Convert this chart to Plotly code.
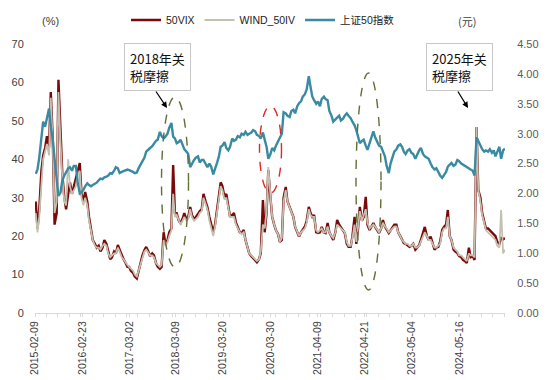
import pandas as pd
import plotly.graph_objects as go

# ---------------- data (semi-monthly readings) ----------------
vix_2015 = [29, 22, 27, 37, 41, 43, 46, 43, 57.5, 45, 23, 26, 60.7, 46, 36, 30, 27, 31, 34, 31, 33]
vix_2016 = [35, 37, 39, 31, 29, 31.5, 29, 25, 22, 19, 18, 17, 17.5, 16, 17, 19, 18, 16, 14, 14.5, 16, 15.5, 17.7, 16.5]
vix_2017 = [15, 14, 13, 12, 12, 11, 10.4, 9.5, 9, 11, 13.8, 15, 16.4, 17.2, 16, 14.8, 15.5, 15, 13, 12, 11.5, 12, 21, 18]
vix_2018 = [19, 21, 22, 38.5, 26, 26, 24, 23.4, 24.5, 26, 24.3, 25, 27.6, 25.5, 24.3, 25, 26, 26.5, 27, 31, 29, 27.6, 25, 23]
vix_2019 = [21, 23, 27, 31, 34, 33, 30, 31, 28, 25, 25.5, 26, 23.5, 22.4, 21, 20.8, 21.6, 19, 17.2, 15.5, 14.8, 14.2, 13.8, 13.2]
vix_2020 = [14, 15.6, 29.4, 21, 26, 37.2, 30, 25, 23, 21.5, 20.5, 18.5, 19, 30, 32.8, 29, 27.6, 26.5, 25, 22.4, 21, 19.9, 21, 21.6]
vix_2021 = [22.5, 24, 27.6, 26, 25, 25.5, 21, 20.8, 21, 22.4, 21, 20.8, 23.4, 21, 19.9, 19, 21, 24.2, 23, 22.4, 21.5, 20.8, 18, 17.2]
vix_2022 = [17.2, 20, 25, 18, 22, 27.6, 24, 25, 30.2, 23, 21.6, 22.5, 23.4, 22.4, 21.5, 20.8, 22, 24.2, 22.5, 21.6, 20.8, 21.5, 22.4, 23]
vix_2023 = [23, 21, 20, 19, 18.2, 18, 17.5, 17.2, 17.5, 18, 16.5, 17, 17.6, 19, 21, 22.4, 20, 19, 19.9, 18, 16.5, 17, 17.2, 18.5]
vix_2024 = [21.6, 22.4, 23, 26.8, 20, 19, 16.5, 16, 15.6, 14.8, 14.5, 13.8, 13.5, 13, 17, 14.5, 14.8, 13.8, 48.4, 32, 30, 26, 24, 22]
vix_2025 = [22, 21.5, 21, 20.5, 20, 18.5, 18, 19.5, 19.2, 19.5]

iv_2015 = [26, 21, 25, 35, 40, 42, 44, 41, 56, 44, 26, 29, 57.5, 44, 35, 29, 28, 40, 33, 31, 32]
iv_2016 = [33, 36, 37, 30, 28, 30, 28, 24, 21, 19, 17.5, 17, 17, 16.5, 17.5, 18, 17.5, 15.5, 14.5, 15, 15.5, 15.5, 17, 16]
iv_2017 = [14.5, 14, 13, 12.5, 12, 11.5, 11, 10, 9.5, 11, 13, 14.5, 16, 16.5, 15.5, 15, 15, 14.5, 13, 12.5, 12, 12.5, 19, 17.5]
iv_2018 = [18.5, 20, 21.5, 31, 25, 25.5, 24, 23, 24, 25, 24, 24.5, 27, 25, 24, 24.5, 25, 26, 26.5, 30, 28, 27, 24, 22]
iv_2019 = [20, 22.5, 26, 30, 33, 32, 29.5, 30, 27.5, 25, 25, 25, 23, 22, 21, 20.5, 21, 19, 17, 15.5, 15, 14.5, 14, 13.5]
iv_2020 = [14, 16, 23, 22, 26.5, 38, 30.5, 25, 23, 21.5, 20.5, 18.5, 19.5, 29, 32, 29, 27.5, 26.5, 25, 22.5, 21, 20, 21, 21.5]
iv_2021 = [22, 23.5, 27, 25.5, 25, 25, 21.5, 21, 21.5, 22, 21, 21, 22.5, 21, 20, 19.5, 21, 23, 22.5, 22, 21.5, 21, 18.5, 17.5]
iv_2022 = [17.5, 19.5, 23, 18.5, 22.5, 26.5, 24, 25.5, 27, 23.5, 22, 22.5, 23, 22.5, 21.5, 21, 22, 23.5, 22.5, 22, 21, 21.5, 22, 22.5]
iv_2023 = [22.5, 21, 20, 19, 18.5, 18, 18, 17.5, 17.5, 18, 17, 17, 17.5, 18.5, 20, 21, 20, 19, 19, 18, 17, 17, 17.5, 18]
iv_2024 = [21, 22, 22, 25, 20, 19, 17, 16.5, 16, 15, 15, 14.5, 14, 13.5, 15.5, 15, 15, 14.5, 48.4, 32, 29, 25.5, 23.5, 21.5]
iv_2025 = [21, 20.5, 20, 19.5, 19, 17.5, 17, 26.8, 15.5, 16.5]

sz50_2015 = [2.33, 2.40, 2.60, 2.95, 3.20, 3.12, 3.28, 3.42, 3.12, 2.90, 2.58, 2.28, 1.96, 2.02, 2.22, 2.30, 2.36, 2.42, 2.44, 2.38, 2.46]
sz50_2016 = [2.46, 2.20, 2.00, 2.02, 2.06, 2.12, 2.17, 2.14, 2.12, 2.14, 2.16, 2.18, 2.22, 2.25, 2.24, 2.27, 2.28, 2.30, 2.34, 2.33, 2.38, 2.44, 2.42, 2.34]
sz50_2017 = [2.36, 2.37, 2.38, 2.40, 2.39, 2.38, 2.36, 2.34, 2.35, 2.42, 2.48, 2.52, 2.60, 2.70, 2.74, 2.76, 2.79, 2.84, 2.88, 2.90, 3.03, 2.96, 2.92, 2.95]
sz50_2018 = [3.00, 3.10, 3.18, 2.95, 2.92, 2.84, 2.86, 2.90, 2.80, 2.74, 2.70, 2.66, 2.44, 2.50, 2.56, 2.60, 2.62, 2.52, 2.56, 2.56, 2.50, 2.44, 2.50, 2.45]
sz50_2019 = [2.32, 2.40, 2.52, 2.62, 2.78, 2.80, 2.86, 2.76, 2.72, 2.78, 2.92, 2.88, 2.90, 2.96, 2.94, 3.00, 2.98, 3.03, 2.98, 3.00, 3.02, 3.06, 3.04, 2.98]
sz50_2020 = [2.96, 2.92, 3.02, 2.90, 2.78, 2.58, 2.66, 2.76, 2.72, 2.80, 2.88, 2.92, 3.00, 3.36, 3.34, 3.30, 3.28, 3.38, 3.40, 3.34, 3.46, 3.51, 3.54, 3.62]
sz50_2021 = [3.66, 3.74, 3.96, 3.78, 3.62, 3.56, 3.50, 3.54, 3.46, 3.58, 3.62, 3.58, 3.56, 3.38, 3.30, 3.20, 3.24, 3.26, 3.30, 3.22, 3.25, 3.30, 3.34, 3.30]
sz50_2022 = [3.26, 3.20, 3.14, 3.06, 2.96, 2.84, 2.88, 2.90, 2.80, 2.73, 2.84, 2.92, 3.04, 2.94, 2.86, 2.80, 2.78, 2.70, 2.62, 2.46, 2.34, 2.50, 2.62, 2.70]
sz50_2023 = [2.74, 2.80, 2.82, 2.78, 2.70, 2.66, 2.72, 2.74, 2.68, 2.66, 2.58, 2.66, 2.72, 2.76, 2.66, 2.62, 2.60, 2.58, 2.50, 2.44, 2.40, 2.42, 2.36, 2.30]
sz50_2024 = [2.26, 2.30, 2.36, 2.45, 2.48, 2.51, 2.46, 2.48, 2.56, 2.54, 2.50, 2.48, 2.45, 2.44, 2.42, 2.40, 2.38, 2.30, 2.94, 2.88, 2.80, 2.74, 2.70, 2.72]
sz50_2025 = [2.70, 2.74, 2.68, 2.72, 2.62, 2.70, 2.78, 2.58, 2.72, 2.75]

tick_labels = ["2015-02-09", "2016-02-23", "2017-03-02", "2018-03-09", "2019-03-20",
               "2020-03-30", "2021-04-09", "2022-04-21", "2023-05-04", "2024-05-16"]

vix = vix_2015 + vix_2016 + vix_2017 + vix_2018 + vix_2019 + vix_2020 + vix_2021 + vix_2022 + vix_2023 + vix_2024 + vix_2025
iv = iv_2015 + iv_2016 + iv_2017 + iv_2018 + iv_2019 + iv_2020 + iv_2021 + iv_2022 + iv_2023 + iv_2024 + iv_2025
sz50 = sz50_2015 + sz50_2016 + sz50_2017 + sz50_2018 + sz50_2019 + sz50_2020 + sz50_2021 + sz50_2022 + sz50_2023 + sz50_2024 + sz50_2025
dates = pd.date_range("2015-02-15", periods=len(vix), freq="SMS")

FONT = "Liberation Sans, Arial, Noto Sans CJK SC, sans-serif"
CJK = "Noto Sans CJK SC, Liberation Sans, sans-serif"

fig = go.Figure()
fig.add_trace(go.Scatter(x=dates, y=vix, name="50VIX", mode="lines",
                         line=dict(color="#7a0a0a", width=2.4)))
fig.add_trace(go.Scatter(x=dates, y=iv, name="WIND_50IV", mode="lines",
                         line=dict(color="#c4c0b0", width=1.8)))
fig.add_trace(go.Scatter(x=dates, y=sz50, name="上证50指数", mode="lines", yaxis="y2",
                         line=dict(color="#3a8ba2", width=2.4)))

# screen-pixel helpers (plot area on screen: x 35..505, y 44..313)
def px(xp):
    return (xp - 35) / 470.0

def py(yp):
    return (313 - yp) / 269.0

shapes = [
    dict(type="circle", xref="paper", yref="paper", x0=px(161.5), x1=px(188.5), y0=py(267), y1=py(97),
         line=dict(color="#5f6f35", width=1.4, dash="dash")),
    dict(type="circle", xref="paper", yref="paper", x0=px(259.5), x1=px(281.5), y0=py(193), y1=py(106),
         line=dict(color="#e02828", width=1.4, dash="dash")),
    dict(type="circle", xref="paper", yref="paper", x0=px(356), x1=px(381), y0=py(290), y1=py(73),
         line=dict(color="#5f6f35", width=1.4, dash="dash")),
]

annotations = [
    dict(text="(%)", xref="paper", yref="paper", x=px(50), y=py(21), xanchor="center", yanchor="middle",
         showarrow=False, font=dict(size=11, color="#404040", family=FONT)),
    dict(text="(元)", xref="paper", yref="paper", x=px(467), y=py(21), xanchor="center", yanchor="middle",
         showarrow=False, font=dict(size=11, color="#404040", family=CJK)),
    dict(text="2018年关<br>税摩擦", xref="paper", yref="paper", x=px(157.5), y=py(67),
         xanchor="center", yanchor="middle", showarrow=False,
         align="left", bgcolor="white", bordercolor="#c8c8c8", borderwidth=1, borderpad=5,
         font=dict(size=13, color="#111111", family=CJK)),
    dict(text="2025年关<br>税摩擦", xref="paper", yref="paper", x=px(459.5), y=py(66.5),
         xanchor="center", yanchor="middle", showarrow=False,
         align="left", bgcolor="white", bordercolor="#c8c8c8", borderwidth=1, borderpad=5,
         font=dict(size=13, color="#111111", family=CJK)),
    dict(text="", xref="paper", yref="paper", x=px(167), y=py(108), ax=-12, ay=-18,
         showarrow=True, arrowhead=2, arrowsize=1, arrowwidth=1.2, arrowcolor="black"),
    dict(text="", xref="paper", yref="paper", x=px(468), y=py(108), ax=-11, ay=-18,
         showarrow=True, arrowhead=2, arrowsize=1, arrowwidth=1.2, arrowcolor="black"),
]

# the page body adds an 8px offset, so the figure is sized/margined to compensate
fig.update_layout(
    width=542, height=372,
    margin=dict(l=27, r=45, t=36, b=67, autoexpand=False),
    paper_bgcolor="white", plot_bgcolor="white",
    font=dict(family=FONT, size=11, color="#404040"),
    showlegend=True,
    legend=dict(orientation="h", x=px(263), xanchor="center", y=py(20), yanchor="middle",
                font=dict(size=10.5, color="#222222", family=FONT), itemwidth=30,
                bgcolor="rgba(0,0,0,0)", tracegroupgap=0),
    xaxis=dict(type="date", range=["2015-02-09", "2025-05-16"],
               tickmode="array", tickvals=tick_labels, ticktext=tick_labels,
               tickangle=-90, tickfont=dict(size=10.5, color="#404040"),
               showline=True, linecolor="#d9d9d9", linewidth=1,
               ticks="outside", ticklen=3, tickcolor="#d9d9d9",
               minor=dict(ticks="outside", ticklen=3, tickcolor="#d9d9d9", dtick="M3", tick0="2015-02-09"),
               showgrid=False, zeroline=False),
    yaxis=dict(range=[0, 70], dtick=10, showgrid=False, zeroline=False, showline=False,
               ticks="outside", ticklen=8, tickcolor="rgba(0,0,0,0)",
               tickfont=dict(size=11, color="#404040")),
    yaxis2=dict(range=[0, 4.5], dtick=0.5, tickformat=".2f", overlaying="y", side="right",
                showgrid=False, zeroline=False, showline=False,
                ticks="outside", ticklen=9, tickcolor="rgba(0,0,0,0)",
                tickfont=dict(size=11, color="#595959")),
    shapes=shapes,
    annotations=annotations,
)

fig.write_html("out.html")
